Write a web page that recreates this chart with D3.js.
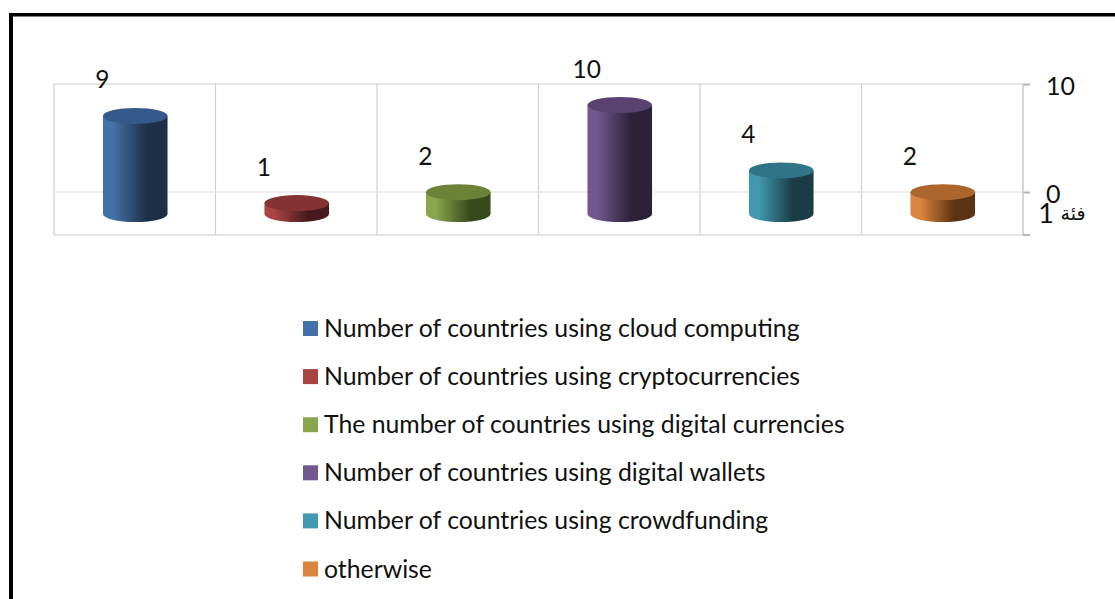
<!DOCTYPE html>
<html>
<head>
<meta charset="utf-8">
<script src="https://cdn.jsdelivr.net/npm/d3@7/dist/d3.min.js"></script>
<style>
html,body{margin:0;padding:0;background:#fff;}
svg{display:block;}
text{font-family:Lato,"DejaVu Sans",sans-serif;fill:#111;}
</style>
</head>
<body>
<svg id="chart" width="1115" height="599"></svg>
<script>
const seriesNames = [
  "Number of countries using cloud computing",
  "Number of countries using cryptocurrencies",
  "The number of countries using digital currencies",
  "Number of countries using digital wallets",
  "Number of countries using crowdfunding",
  "otherwise"
];
const seriesValues = [9, 1, 2, 10, 4, 2];
const swatchColors = ["#4472a8", "#a84442", "#89a64e", "#71588f", "#4198af", "#db843d"];
const capColors = ["#35598a", "#843232", "#6b8238", "#59426f", "#2f7587", "#ab652d"];
const shadeColors = ["#1c2f47", "#47191a", "#384a1b", "#2b2238", "#1a3c46", "#5a3312"];
const axisTicks = [0, 10];
const categoryLabel = "فئة";
const categoryNumber = "1";

const svg = d3.select("#chart");
const defs = svg.append("defs");

// Document frame: only the top and left rules fall inside the page
svg.append("rect").attr("x", 9).attr("y", 13).attr("width", 1106).attr("height", 3.5).attr("fill", "#000");
svg.append("rect").attr("x", 9).attr("y", 13).attr("width", 4).attr("height", 586).attr("fill", "#000");

const plot = {left: 54, right: 1023, top: 84, floor: 192, bottom: 235};

// Back wall scale and the projected scale used by the cylinders
const wallY = d3.scaleLinear().domain([0, 10]).range([plot.floor, plot.top]);
const barY = d3.scaleLinear().domain([0, 10]).range([214, 105]);
const x = d3.scaleBand().domain(d3.range(seriesValues.length)).range([plot.left, plot.right]);

const grid = svg.append("g");
grid.selectAll("line.v").data(d3.range(seriesValues.length + 1)).join("line")
  .attr("class", "v")
  .attr("x1", i => plot.left + i * x.bandwidth())
  .attr("x2", i => plot.left + i * x.bandwidth())
  .attr("y1", plot.top).attr("y2", plot.bottom)
  .attr("stroke", "#cfcfcf").attr("stroke-width", 1.2);
grid.append("line").attr("x1", plot.left).attr("x2", plot.right).attr("y1", wallY(10)).attr("y2", wallY(10))
  .attr("stroke", "#d0d0d0").attr("stroke-width", 1.2);
grid.append("line").attr("x1", plot.left).attr("x2", plot.right).attr("y1", wallY(0)).attr("y2", wallY(0))
  .attr("stroke", "#e8e8e8").attr("stroke-width", 1.5);
grid.append("line").attr("x1", plot.left).attr("x2", plot.right).attr("y1", plot.bottom).attr("y2", plot.bottom)
  .attr("stroke", "#dcdcdc").attr("stroke-width", 1.5);

// Value axis on the right of the plot
const axis = svg.append("g")
  .attr("transform", `translate(${plot.right},0)`)
  .call(d3.axisRight(wallY).tickValues(axisTicks).tickSize(7).tickPadding(16).tickFormat(d3.format("d")));
axis.select(".domain").remove();
axis.selectAll("line").attr("stroke", "#b5b5b5").attr("stroke-width", 2);
axis.selectAll("text").attr("font-size", 25).attr("dy", "0.42em").style("font-family", "Lato").attr("fill", "#111");
axis.append("line").attr("y1", plot.top).attr("y2", plot.bottom).attr("stroke", "#d0d0d0").attr("stroke-width", 1.5);
axis.append("line").attr("x1", 0).attr("x2", 7).attr("y1", plot.bottom).attr("y2", plot.bottom)
  .attr("stroke", "#b5b5b5").attr("stroke-width", 2);

// Category label: digit and Arabic word set at their own sizes
svg.append("text").attr("x", 1046).attr("y", 223).attr("text-anchor", "middle")
  .attr("font-size", 27).text(categoryNumber);
svg.append("text").attr("x", 1073).attr("y", 220).attr("text-anchor", "middle")
  .attr("font-size", 19).style("font-family", "'DejaVu Sans'").text(categoryLabel);

const rx = 32.3, ry = 8;
seriesValues.forEach((v, i) => {
  const id = "side" + i;
  const g = defs.append("linearGradient").attr("id", id).attr("x1", 0).attr("x2", 1).attr("y1", 0).attr("y2", 0);
  g.append("stop").attr("offset", "0%").attr("stop-color", swatchColors[i]);
  g.append("stop").attr("offset", "15%").attr("stop-color", swatchColors[i]);
  g.append("stop").attr("offset", "68%").attr("stop-color", shadeColors[i]);
  g.append("stop").attr("offset", "100%").attr("stop-color", shadeColors[i]);
});

const bars = svg.append("g").selectAll("g").data(seriesValues).join("g");
const centre = i => x(i) + x.bandwidth() / 2 + 0.5;
bars.append("path")
  .attr("fill", (d, i) => `url(#side${i})`)
  .attr("d", (d, i) => {
    const cx = centre(i), top = barY(d), base = barY(0);
    return `M${cx - rx},${top}L${cx - rx},${base}A${rx},${ry} 0 0 0 ${cx + rx},${base}L${cx + rx},${top}Z`;
  });
bars.append("ellipse")
  .attr("cx", (d, i) => centre(i))
  .attr("cy", d => barY(d))
  .attr("rx", rx).attr("ry", ry)
  .attr("fill", (d, i) => capColors[i]);
bars.append("text")
  .attr("x", (d, i) => centre(i) - 33)
  .attr("y", d => barY(d) - 35 + 7.5)
  .attr("text-anchor", "middle")
  .attr("font-size", 24.5)
  .text(d => d);

// Legend stacked below the plot
const legendY = d3.scalePoint().domain(d3.range(seriesNames.length)).range([328.5, 569]);
const legend = svg.append("g").selectAll("g").data(seriesNames).join("g")
  .attr("transform", (d, i) => `translate(303,${legendY(i)})`);
legend.append("rect").attr("y", -7.5).attr("width", 15).attr("height", 15)
  .attr("fill", (d, i) => swatchColors[i]);
legend.append("text").attr("x", 21).attr("y", 8.5).attr("font-size", 24.8).text(d => d);
</script>
</body>
</html>
